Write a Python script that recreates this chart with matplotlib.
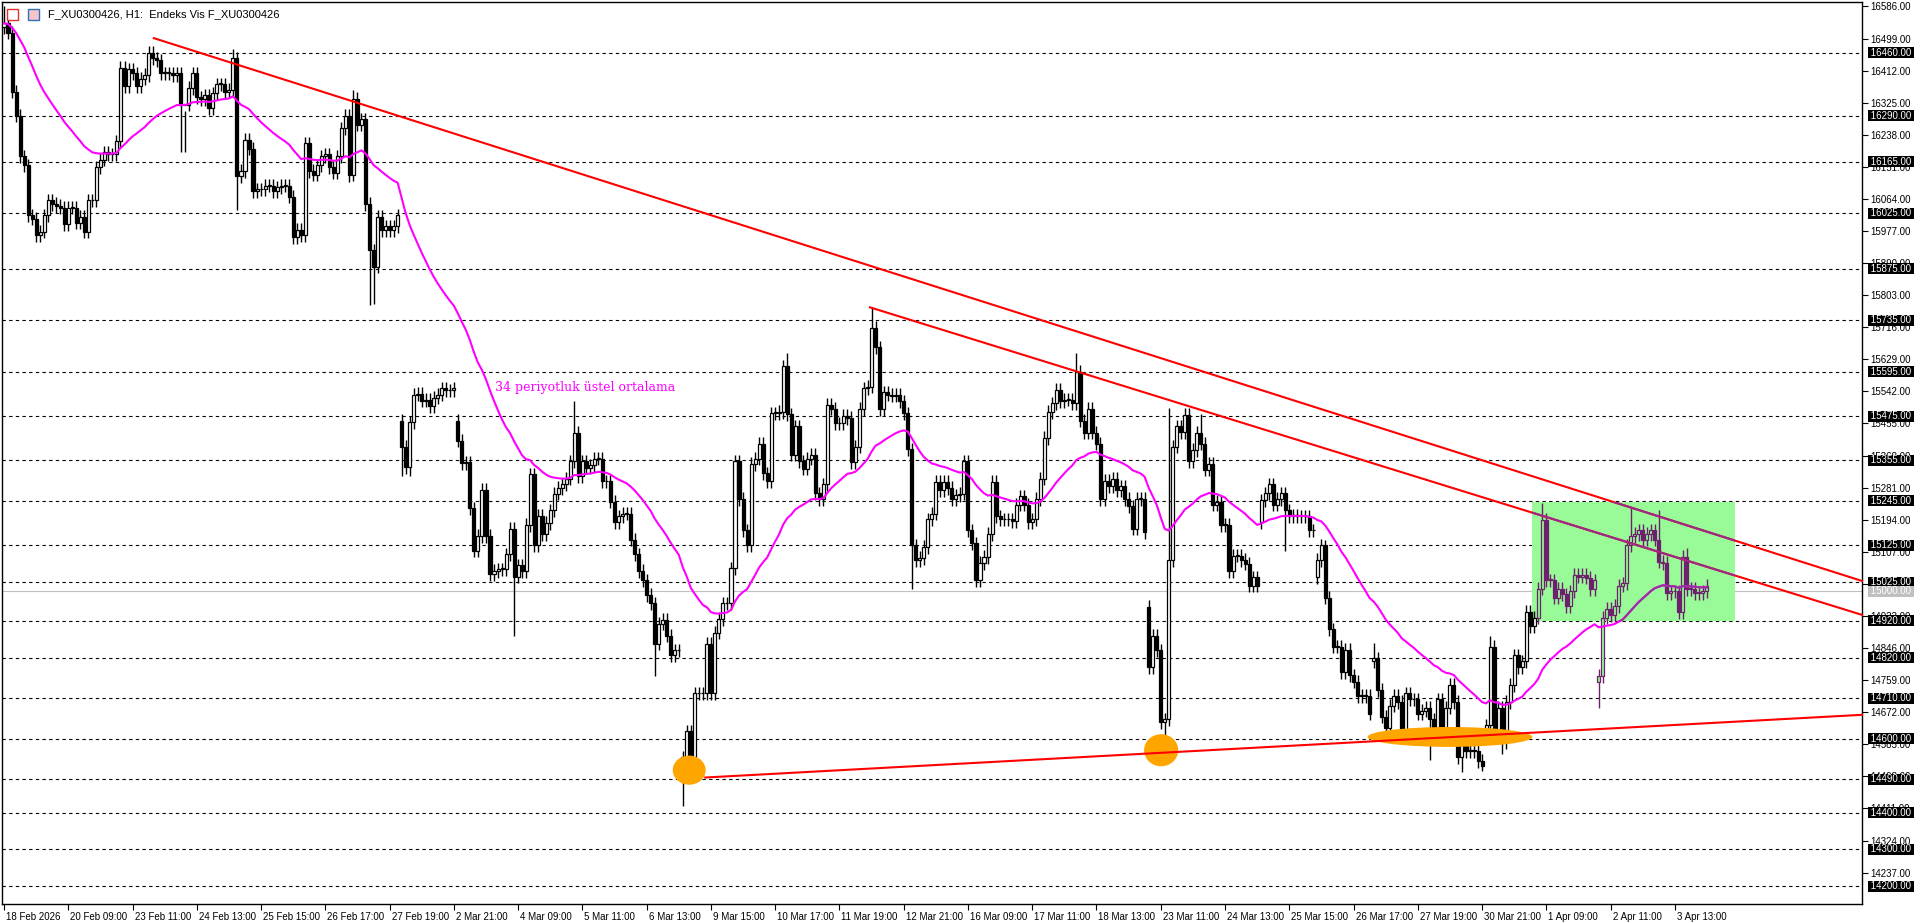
import matplotlib
matplotlib.use("Agg")
import matplotlib.pyplot as plt
import matplotlib.transforms as mtransforms
from matplotlib.patches import Rectangle, Ellipse
import numpy as np
import pandas as pd

closes = [16540,16515,16355,16290,16180,16155,16020,16010,15965,15975,16020,16060,16050,16045,16040,15995,16040,16040,16000,16015,
15975,16060,16060,16150,16170,16190,16185,16185,16220,16420,16370,16415,16405,16370,16390,16400,16460,16445,16440,16405,
16405,16405,16400,16405,16320,16320,16365,16405,16340,16335,16345,16310,16350,16375,16375,16355,16360,16445,16125,16140,
16225,16200,16085,16090,16090,16100,16100,16085,16095,16100,16100,16070,15960,15980,15965,16215,16140,16130,16155,16180,
16185,16150,16135,16180,16255,16290,16130,16335,16265,16280,16050,15925,15880,16015,15980,15990,15980,15990,16020,15392,
15337,15458,15533,15536,15517,15520,15502,15525,15533,15550,15545,15545,15550,15408,15348,15350,15225,15110,15150,15275,
15150,15046,15055,15060,15060,15100,15170,15040,15070,15055,15180,15317,15125,15205,15155,15185,15220,15265,15280,15290,
15305,15352,15430,15313,15352,15335,15342,15360,15360,15298,15298,15243,15188,15203,15210,15210,15140,15100,15055,15030,
14990,14967,14858,14912,14923,14880,14826,14840,14840,14505,14620,14503,14723,14723,14723,14858,14723,14888,14925,14967,
14967,15062,15352,15250,15165,15125,15345,15360,15400,15320,15298,15483,15483,15486,15610,15480,15370,15447,15352,15332,
15360,15370,15266,15250,15290,15505,15495,15455,15455,15475,15470,15350,15392,15494,15550,15555,15714,15662,15494,15540,
15533,15530,15533,15515,15483,15385,15125,15085,15090,15120,15195,15210,15297,15275,15297,15280,15250,15260,15265,15352,
15165,15130,15030,15077,15093,15155,15297,15203,15195,15195,15195,15190,15235,15258,15235,15187,15195,15250,15305,15416,
15486,15510,15546,15515,15520,15520,15510,15596,15463,15430,15494,15430,15400,15250,15300,15285,15305,15275,15285,15250,
15230,15170,15250,15250,15160,14795,14880,14840,14645,14653,15085,15392,15447,15431,15478,15352,15383,15430,15400,15330,
15345,15235,15243,15180,15180,15055,15097,15097,15085,15075,15015,15038,15015,15247,15266,15290,15235,15250,15266,15220,
15203,15206,15203,15203,15203,15165,15165,15085,15125,14983,14897,14850,14850,14780,14842,14772,14755,14716,14716,14716,
14668,14818,14732,14660,14630,14690,14716,14700,14623,14723,14707,14707,14668,14676,14684,14653,14630,14707,14630,14684,
14746,14700,14550,14582,14567,14570,14567,14540,14527,14637,14850,14606,14684,14590,14700,14746,14826,14795,14810,14944,
14905,14928,15007,15193,15030,15030,14983,15007,14992,14960,15000,15045,15040,15045,15037,15006,15030,14770,14928,14952,
14936,14960,15015,15022,15125,15150,15155,15165,15140,15155,15165,15140,15080,15077,14995,15000,15000,14944,15094,15006,
15006,14995,14995,15000,15015]
first_open = 16530
gap_opens = {99: 15463, 113: 15463, 169: 14550, 285: 14958, 313: 15187, 327: 15038, 341: 14810, 369: 14613, 397: 14755}
high_over = {0: 16586, 45: 16190, 142: 15517, 195: 15645, 216: 15770, 267: 15645, 290: 15497, 298: 15480,
             341: 14860, 370: 14880, 383: 15240, 405: 15227, 412: 15220, 419: 15117, 329: 15140, 87: 16360, 57: 16470}
low_over = {91: 15777, 92: 15780, 99: 15313, 101: 15313, 127: 14880, 162: 14770, 169: 14417, 226: 15006, 289: 14600,
            319: 15109, 355: 14543, 363: 14510, 368: 14514, 373: 14560, 397: 14684, 44: 16190, 58: 16035, 86: 16110}
default_wick = 18

level_lines = [16460,16290,16165,16025,15875,15735,15595,15475,15355,15245,15125,15025,14920,14820,14710,14600,14490,14400,14300,14200]
axis_ticks = [16586,16499,16412,16325,16238,16151,16064,15977,15890,15803,15716,15629,15542,15455,15368,15281,15194,15107,
              15020,14933,14846,14759,14672,14585,14498,14411,14324,14237]
current_price = 15000
x_labels = ["18 Feb 2026","20 Feb 09:00","23 Feb 11:00","24 Feb 13:00","25 Feb 15:00","26 Feb 17:00","27 Feb 19:00",
            "2 Mar 21:00","4 Mar 09:00","5 Mar 11:00","6 Mar 13:00","9 Mar 15:00","10 Mar 17:00","11 Mar 19:00",
            "12 Mar 21:00","16 Mar 09:00","17 Mar 11:00","18 Mar 13:00","23 Mar 11:00","24 Mar 13:00","25 Mar 15:00",
            "26 Mar 17:00","27 Mar 19:00","30 Mar 21:00","1 Apr 09:00","2 Apr 11:00","3 Apr 13:00"]
bars_per_label = 16
trend_upper = [(37.3, 16500), (462.6, 15028)]
trend_mid = [(215.6, 15770), (462.6, 14936)]
trend_low = [(174.6, 14495), (462.6, 14665)]
box = (380.5, 14919, 431.0, 15241)  # x0, y0, x1, y1
ellipses = [(170.6, 14515, 8.2, 79), (288.1, 14569, 8.5, 87), (360.0, 14605, 41.0, 54)]

n = len(closes)
opens = [first_open] + closes[:-1]
for k, v in gap_opens.items():
    opens[k] = v
highs = [high_over.get(i, max(opens[i], closes[i]) + default_wick) for i in range(n)]
lows = [low_over.get(i, min(opens[i], closes[i]) - default_wick) for i in range(n)]
ema = pd.Series(closes, dtype=float).ewm(span=34, adjust=False).mean().values

plt.rcParams['font.family'] = ['Liberation Sans', 'DejaVu Sans']
W, H = 1920, 923
fig = plt.figure(figsize=(W/100, H/100), dpi=100)
ax = fig.add_axes([2/W, (H-904)/H, (1862-2)/W, (904-2)/H])
ax.set_xlim(-0.5, 462.6)
ax.set_ylim(14152, 16598)

PURPLE = '#6E1F6E'
GREEN = '#98FB98'
bx0, by0, bx1, by1 = box
rect = Rectangle((bx0, by0), bx1-bx0, by1-by0, facecolor=GREEN, edgecolor='none', zorder=1)
ax.add_patch(rect)

for lv in level_lines:
    ax.axhline(lv, color='black', lw=0.8, ls=(0, (3, 3)), zorder=0.5)
ax.axhline(current_price, color='#C0C0C0', lw=0.8, zorder=0.6)

for i in range(n):
    o, c, h, l = opens[i], closes[i], highs[i], lows[i]
    inbox = i >= 382
    col = PURPLE if inbox else 'black'
    ax.vlines(i, l, h, color=col, lw=1.0, zorder=3)
    bottom = min(o, c)
    hgt = max(abs(c - o), 2)
    if c >= o:
        fc = GREEN if inbox else 'white'
    else:
        fc = col
    ax.add_patch(Rectangle((i - 0.38, bottom), 0.76, hgt, facecolor=fc, edgecolor=col, lw=0.9, zorder=4))

xs = np.arange(n)
ax.plot(xs, ema, color='#FF00FF', lw=1.5, zorder=5)
l2, = ax.plot(xs, ema, color='#9A30A0', lw=1.5, zorder=5.1)
l2.set_clip_path(rect)

for e in ellipses:
    ax.add_patch(Ellipse((e[0], e[1]), e[2], e[3], facecolor='#FFA500', edgecolor='none', zorder=5.5))

for tl in (trend_upper, trend_mid, trend_low):
    (x0, y0), (x1, y1) = tl
    ax.plot([x0, x1], [y0, y1], color='#FF0000', lw=1.5, zorder=6, clip_on=False)
    pl, = ax.plot([x0, x1], [y0, y1], color='#9A2A8A', lw=1.5, zorder=6.1)
    pl.set_clip_path(rect)

ax.text(0.265, 15553, "34 periyotluk üstel ortalama", transform=mtransforms.blended_transform_factory(ax.transAxes, ax.transData),
        color='#FF00FF', fontsize=9, family='DejaVu Serif', va='center', ha='left', zorder=7)

fig.text(48/W, 1 - 14/H, "F_XU0300426, H1:  Endeks Vis F_XU0300426", fontsize=8, va='center', ha='left', color='black')
fig.patches.append(Rectangle((7/W, 1-20/H), 11/W, 11/H, transform=fig.transFigure, facecolor='white', edgecolor='#E03030', lw=1))
fig.patches.append(Rectangle((28/W, 1-20/H), 11/W, 11/H, transform=fig.transFigure, facecolor='#F6C6C6', edgecolor='#3070C0', lw=1))

for s in ax.spines.values():
    s.set_linewidth(1.0)
ax.yaxis.tick_right()
ax.set_yticks(axis_ticks)
ax.set_yticklabels([f"{t:.2f}" for t in axis_ticks], fontsize=7)
ax.tick_params(axis='y', direction='out', length=4, pad=2, width=0.8)
ticks = [k * bars_per_label for k in range(len(x_labels))]
ax.set_xticks(ticks)
ax.set_xticklabels(x_labels, fontsize=7, ha='left')
ax.tick_params(axis='x', direction='out', length=4, pad=2, width=0.8)
for lbl in ax.get_xticklabels():
    lbl.set_transform(lbl.get_transform() + mtransforms.ScaledTranslation(2/100, 0, fig.dpi_scale_trans))

tr = mtransforms.blended_transform_factory(ax.transAxes, ax.transData)
for lv in level_lines:
    ax.text(1.0, lv, f" {lv:.2f} ", transform=tr + mtransforms.ScaledTranslation(6/100, 0, fig.dpi_scale_trans),
            fontsize=7, color='white', va='center', ha='left', zorder=10, clip_on=False,
            bbox=dict(boxstyle='square,pad=0.05', facecolor='black', edgecolor='none'))
ax.text(1.0, current_price, f" {current_price:.2f} ", transform=tr + mtransforms.ScaledTranslation(6/100, 0, fig.dpi_scale_trans),
        fontsize=7, color='white', va='center', ha='left', zorder=10, clip_on=False,
        bbox=dict(boxstyle='square,pad=0.05', facecolor='#C0C0C0', edgecolor='none'))

fig.savefig("out.png", dpi=100)
